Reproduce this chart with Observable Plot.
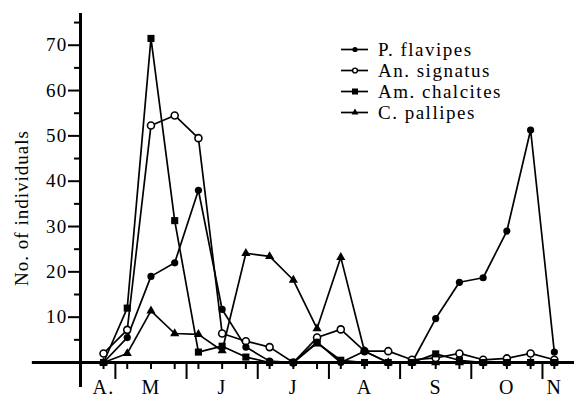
<!DOCTYPE html>
<html><head><meta charset="utf-8">
<script src="https://cdn.jsdelivr.net/npm/d3@7"></script>
<script src="https://cdn.jsdelivr.net/npm/@observablehq/plot@0.6"></script>
<style>
body{margin:0;background:#fff;}
#wrap{position:relative;width:574px;height:398px;font-family:"Liberation Serif","Times New Roman",serif;color:#000;overflow:hidden;}
#wrap svg, #wrap svg text{font-family:"Liberation Serif","Times New Roman",serif !important;}
#wrap svg text{letter-spacing:1.3px;}
#ylab{position:absolute;left:21.5px;top:208px;transform:translate(-50%,-50%) rotate(-90deg);white-space:nowrap;font-size:19px;letter-spacing:1px;}
#legend{position:absolute;left:341px;top:39px;font-size:19px;letter-spacing:1.5px;line-height:21px;}
.row{display:flex;align-items:center;height:21px;}
.row svg{margin-right:9px;flex:none;}
</style></head>
<body><div id="wrap"><div id="chart"></div><div id="ylab">No. of individuals</div><div id="legend"></div></div>
<script>
// sampling occasions (about every 10 days, late April to early November)
const samples = ["Apr 25","May 5","May 15","May 25","Jun 5","Jun 15","Jun 25","Jul 5","Jul 15","Jul 25","Aug 5","Aug 15","Aug 25","Sep 5","Sep 15","Sep 25","Oct 5","Oct 15","Oct 25","Nov 5"];
const species = ["P. flavipes", "An. signatus", "Am. chalcites", "C. pallipes"];
const pFlavipes   = [0, 5.5, 19, 22, 38, 11.7, 3.4, 0.3, 0, 4.5, 0, 2.5, 0, 0, 9.7, 17.7, 18.7, 29, 51.3, 2.3];
const anSignatus  = [2, 7.2, 52.3, 54.5, 49.5, 6.4, 4.7, 3.4, 0, 5.5, 7.3, 2.5, 2.5, 0.6, 1, 2, 0.6, 0.9, 2, 0.6];
const amChalcites = [0, 12, 71.5, 31.3, 2.3, 3.6, 1.2, 0, 0, 4.3, 0.5, 0, 0, 0, 1.9, 0.5, 0, 0, 0, 0];
const cPallipes   = [0, 2, 11.4, 6.4, 6.2, 2.6, 24.1, 23.4, 18.2, 7.5, 23.2, 2.5, 0, 0, 0, 0, 0, 0, 0, 0];
const yMajorTicks = [10, 20, 30, 40, 50, 60, 70];
const yMinorTicks = [5, 15, 25, 35, 45, 55, 65, 75];
const monthLabels = ["A.", "M", "J", "J", "A", "S", "O", "N"];
const monthLabelAt = [0, 2, 5, 8, 11, 14, 17, 19];
const monthBounds = [0.5, 3.5, 6.5, 9.5, 12.5, 15.5, 18.5];

const seriesValues = [pFlavipes, anSignatus, amChalcites, cPallipes];
const rows = [];
species.forEach((s, k) => seriesValues[k].forEach((v, i) => rows.push({species: s, i, sample: samples[i], v})));
const bySp = s => rows.filter(d => d.species === s);

const xLo = -0.97, xHi = 19.85;
const chart = Plot.plot({
  width: 574, height: 398,
  marginLeft: 80, marginRight: 0, marginTop: 13, marginBottom: 36,
  x: {domain: [xLo, xHi], axis: null},
  y: {domain: [0, 77], axis: null},
  style: {fontFamily: "Liberation Serif, serif", background: "white", color: "black", overflow: "visible"},
  marks: [
    Plot.axisY(yMinorTicks, {anchor: "left", tickSize: 6, tickFormat: () => "", strokeWidth: 2, label: null}),
    Plot.axisY(yMajorTicks, {anchor: "left", tickSize: 12, tickPadding: 1, strokeWidth: 2, fontSize: 19, label: null}),
    Plot.axisX(d3.range(samples.length), {anchor: "bottom", tickSize: 7, tickFormat: () => "", strokeWidth: 2, label: null}),
    Plot.axisX(monthBounds, {anchor: "bottom", tickSize: 17, tickFormat: () => "", strokeWidth: 2, label: null}),
    Plot.axisX(monthLabelAt, {anchor: "bottom", tickSize: 0, tickPadding: 17, fontSize: 20, tickFormat: d => monthLabels[monthLabelAt.indexOf(d)], label: null}),
    Plot.ruleY([0], {x1: -3, x2: xHi, strokeWidth: 3}),
    Plot.ruleX([xLo], {y1: -5.5, y2: 77, strokeWidth: 3}),
    Plot.line(rows, {x: "i", y: "v", z: "species", stroke: "black", strokeWidth: 1.7}),
    Plot.dot(bySp("C. pallipes"), {x: "i", y: "v", symbol: "triangle", r: 3.4, fill: "black"}),
    Plot.dot(bySp("An. signatus"), {x: "i", y: "v", symbol: "circle", r: 3.5, fill: "white", stroke: "black", strokeWidth: 1.6}),
    Plot.dot(bySp("Am. chalcites"), {x: "i", y: "v", symbol: "square", r: 4, fill: "black"}),
    Plot.dot(bySp("P. flavipes"), {x: "i", y: "v", symbol: "circle", r: 3.6, fill: "black"})
  ]
});
document.getElementById("chart").appendChild(chart);

// legend
const legendSym = ["circle", "openCircle", "square", "triangle"];
const leg = d3.select("#legend");
species.forEach((s, k) => {
  const row = leg.append("div").attr("class", "row");
  const sv = row.append("svg").attr("width", 28).attr("height", 21);
  sv.append("line").attr("x1", 0).attr("x2", 27).attr("y1", 10.5).attr("y2", 10.5).attr("stroke", "black").attr("stroke-width", 1.7);
  const t = legendSym[k];
  if (t === "circle") sv.append("circle").attr("cx", 14).attr("cy", 10.5).attr("r", 2.6).attr("fill", "black");
  else if (t === "openCircle") sv.append("circle").attr("cx", 14).attr("cy", 10.5).attr("r", 2.4).attr("fill", "white").attr("stroke", "black").attr("stroke-width", 1.4);
  else if (t === "square") sv.append("rect").attr("x", 11).attr("y", 7.5).attr("width", 6).attr("height", 6).attr("fill", "black");
  else sv.append("path").attr("d", d3.symbol(d3.symbolTriangle, 20)()).attr("transform", "translate(14,10.5)").attr("fill", "black");
  row.append("span").text(s);
});
</script>
</body></html>
